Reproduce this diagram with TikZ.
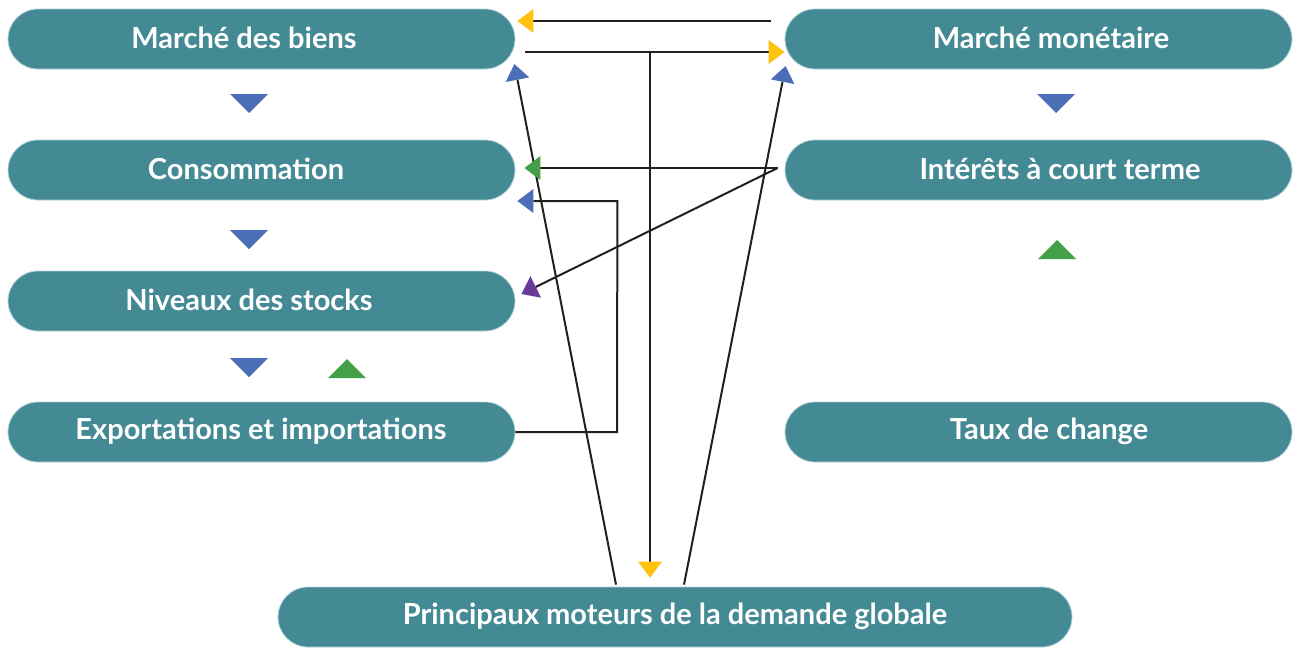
\documentclass[tikz,border=0pt]{standalone}
\usepackage{fontspec}
\setmainfont{Lato}
\usetikzlibrary{arrows.meta,calc}
\definecolor{teal}{HTML}{448A94}
\definecolor{edge}{HTML}{B4D3DA}
\definecolor{ln}{HTML}{231F20}
\definecolor{ylw}{HTML}{FFC20E}
\definecolor{blu}{HTML}{4C6DB8}
\definecolor{grn}{HTML}{43A047}
\definecolor{prp}{HTML}{6A3A98}
\tikzset{
  pill/.style={rectangle, rounded corners=30pt, fill=teal, draw=edge, line width=0.8pt, minimum height=60pt, inner sep=0pt},
  half/.style={pill, minimum width=507pt},
  lbl/.style={text=white, font=\fontsize{29}{34}\selectfont\bfseries, inner sep=0pt},
  conn/.style={draw=ln, line width=2pt, line join=miter},
  tipY/.style={-{Triangle[length=16pt,width=24pt,color=ylw,line width=0pt]}},
  tipB/.style={-{Triangle[length=16pt,width=24pt,color=blu,line width=0pt]}},
  tipG/.style={-{Triangle[length=16pt,width=24pt,color=grn,line width=0pt]}},
  tipP/.style={-{Triangle[length=16pt,width=24pt,color=prp,line width=0pt]}},
}
\begin{document}
\begin{tikzpicture}[x=1pt,y=-1pt]
\useasboundingbox (0,0) rectangle (1298,648);
% boxes
\node[half] (mb) at (261.5,39) {};
\node[half] (co) at (261.5,170) {};
\node[half] (ns) at (261.5,301) {};
\node[half] (ex) at (261.5,432) {};
\node[half] (mm) at (1038.5,39) {};
\node[half] (ic) at (1038.5,170) {};
\node[half] (tc) at (1038.5,432) {};
\node[pill, minimum width=794pt] (pm) at (675,617) {};
% labels
\node[lbl] (tmb) at (244,38) {Marché des biens};
\node[lbl] (tco) at (246,169) {Consommation};
\node[lbl] (tns) at (249,300) {Niveaux des stocks};
\node[lbl] (tex) at (261,431) {Exportations et importations};
\node[lbl] (tmm) at (1051,38) {Marché monétaire};
\node[lbl] (tic) at (1060,169) {Intérêts à court terme};
\node[lbl] (ttc) at (1049,431) {Taux de change};
\node[lbl] (tpm) at (675,616) {Principaux moteurs de la demande globale};
% standalone triangles
\fill[blu] (230,94) -- (268,94) -- (249,113) -- cycle;
\fill[blu] (230,230) -- (268,230) -- (249,249) -- cycle;
\fill[blu] (230,358) -- (268,358) -- (249,377) -- cycle;
\fill[grn] (328,378) -- (366,378) -- (347,359) -- cycle;
\fill[blu] (1037,94) -- (1075,94) -- (1056,113) -- cycle;
\fill[grn] (1038,259) -- (1076,259) -- (1057,240) -- cycle;
% connectors
\coordinate (j) at (650,52);
\coordinate (ri) at ($(ic.west)+(-7,-2)$);
\coordinate (corner) at (617,432);
\draw[conn,tipY] ($(mm.west)+(-14,-18)$) -- ($(mb.east)+(2,-18)$);
\draw[conn,tipY] ($(mb.east)+(10,13)$) -- ($(mm.west)+(0,13)$);
\draw[conn,tipY] (j) -- ($(pm.north)+(-25,-9)$);
\draw[conn,tipB] ($(pm.north)+(-59,-2)$) -- ($(mb.east)+(-1,25)$);
\draw[conn,tipB] ($(pm.north)+(9,-2)$) -- ($(mm.west)+(1,27)$);
\draw[conn,tipG] (ri) -- ($(co.east)+(9,-2)$);
\draw[conn,tipP] (ri) -- ($(ns.east)+(6,-7)$);
\draw[conn,tipB] (ex.east) -- (corner) -- ($(co.east)+(102,31)$) -- ($(co.east)+(2,31)$);
\end{tikzpicture}
\end{document}
